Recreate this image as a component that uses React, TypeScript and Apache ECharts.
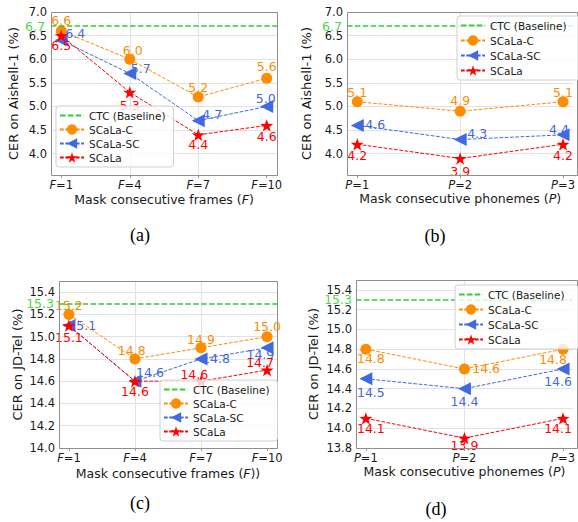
import React, { useEffect, useRef } from 'react';
import * as echarts from 'echarts';

// ---------- data ----------
const seriesNames = ['CTC (Baseline)', 'SCaLa-C', 'SCaLa-SC', 'SCaLa'];

const frameTickLabels = ['F=1', 'F=4', 'F=7', 'F=10'];
const phonemeTickLabels = ['P=1', 'P=2', 'P=3'];

const aishellTickLabels = ['4.0', '4.5', '5.0', '5.5', '6.0', '6.5', '7.0'];
const jdTelTickLabelsC = ['14.0', '14.2', '14.4', '14.6', '14.8', '15.0', '15.2', '15.4'];
const jdTelTickLabelsD = ['13.8', '14.0', '14.2', '14.4', '14.6', '14.8', '15.0', '15.2', '15.4'];

const aishellBaseline = 6.7;
const jdTelBaseline = 15.3;

// (a) Aishell-1, mask consecutive frames
const aishellFramesC = [6.6, 6.0, 5.2, 5.6];
const aishellFramesSC = [6.4, 5.7, 4.7, 5.0];
const aishellFramesS = [6.5, 5.3, 4.4, 4.6];
// (b) Aishell-1, mask consecutive phonemes
const aishellPhonC = [5.1, 4.9, 5.1];
const aishellPhonSC = [4.6, 4.3, 4.4];
const aishellPhonS = [4.2, 3.9, 4.2];
// (c) JD-Tel, mask consecutive frames
const jdFramesC = [15.2, 14.8, 14.9, 15.0];
const jdFramesSC = [15.1, 14.6, 14.8, 14.9];
const jdFramesS = [15.1, 14.6, 14.6, 14.7];
// (d) JD-Tel, mask consecutive phonemes
const jdPhonC = [14.8, 14.6, 14.8];
const jdPhonSC = [14.5, 14.4, 14.6];
const jdPhonS = [14.1, 13.9, 14.1];

// ---------- styles / layout ----------
const FONT = 'DejaVu Sans';
const TEXT = '#1a1a1a';
const GREEN = '#32cd32';
const GREEN_LABEL = '#4fd64f';
const COLORS = ['#ff8c00', '#4169e1', '#ff0000'];
const STAR = 'path://M0,-10 L2.35,-3.24 L9.51,-3.09 L3.8,1.24 L5.88,8.09 L0,4 L-5.88,8.09 L-3.8,1.24 L-9.51,-3.09 L-2.35,-3.24 Z';
const SYMBOLS = [
  { symbol: 'circle', symbolSize: 11, symbolRotate: 0 },
  { symbol: 'triangle', symbolSize: 13, symbolRotate: 90 },
  { symbol: STAR, symbolSize: 13, symbolRotate: 0 },
];

type Panel = {
  grid: { left: number; top: number; width: number; height: number };
  xMin: number; xMax: number; xTicks: string[]; xName: string; xNameGap: number;
  yMin: number; yMax: number; yStep: number; yTicks: string[]; yName: string; yNameGap: number;
  baseline: number; baseDist: number;
  values: number[][];
  offsets: number[][][];
  legend: { left: number; top: number; gap: number; padRight: number };
  caption: string; captionPos: [number, number];
};

const panels: Panel[] = [
  {
    grid: { left: 51, top: 12, width: 226, height: 163 },
    xMin: -0.15, xMax: 3.15, xTicks: frameTickLabels, xName: 'Mask consecutive frames ({i|F})', xNameGap: 18,
    yMin: 3.55, yMax: 7.0, yStep: 0.5, yTicks: aishellTickLabels, yName: 'CER on Aishell-1 (%)', yNameGap: 31,
    baseline: aishellBaseline, baseDist: 6,
    values: [aishellFramesC, aishellFramesSC, aishellFramesS],
    offsets: [
      [[0, -10.5], [3, -9], [0, -10], [0, -11.5]],
      [[14, -7], [11, -4.5], [14, -6], [-1, -7.5]],
      [[0, 9.5], [0, 13], [0, 10], [0, 11]],
    ],
    legend: { left: 56, top: 106, gap: 3, padRight: 8 },
    caption: '(a)', captionPos: [140, 235],
  },
  {
    grid: { left: 347, top: 12, width: 230, height: 163 },
    xMin: -0.1, xMax: 2.1, xTicks: phonemeTickLabels, xName: 'Mask consecutive phonemes ({i|P})', xNameGap: 17,
    yMin: 3.55, yMax: 7.0, yStep: 0.5, yTicks: aishellTickLabels, yName: 'CER on Aishell-1 (%)', yNameGap: 34,
    baseline: aishellBaseline, baseDist: 5,
    values: [aishellPhonC, aishellPhonSC, aishellPhonS],
    offsets: [
      [[0, -9], [0, -10.7], [0, -9]],
      [[18, -1], [17, -6], [-4, -5]],
      [[0, 11.3], [0, 13.3], [0, 11.3]],
    ],
    legend: { left: 457, top: 16, gap: 4, padRight: 14 },
    caption: '(b)', captionPos: [435, 236],
  },
  {
    grid: { left: 59, top: 281, width: 218, height: 167 },
    xMin: -0.15, xMax: 3.15, xTicks: frameTickLabels, xName: 'Mask consecutive frames ({i|F}))', xNameGap: 19,
    yMin: 14.0, yMax: 15.5, yStep: 0.2, yTicks: jdTelTickLabelsC, yName: 'CER on JD-Tel (%)', yNameGap: 35,
    baseline: jdTelBaseline, baseDist: 5,
    values: [jdFramesC, jdFramesSC, jdFramesS],
    offsets: [
      [[0, -8.7], [-3.3, -8.3], [0, -8.7], [0, -10]],
      [[13.3, 0], [15, -8.7], [15, 0], [-6.7, 6.7]],
      [[0, 11.7], [0, 10.7], [-6.7, -7], [-7, -7.7]],
    ],
    legend: { left: 160, top: 380, gap: 3, padRight: 8 },
    caption: '(c)', captionPos: [140, 503],
  },
  {
    grid: { left: 356, top: 280, width: 221, height: 168 },
    xMin: -0.1, xMax: 2.1, xTicks: phonemeTickLabels, xName: 'Mask consecutive phonemes ({i|P})', xNameGap: 17,
    yMin: 13.8, yMax: 15.5, yStep: 0.2, yTicks: jdTelTickLabelsD, yName: 'CER on JD-Tel (%)', yNameGap: 36,
    baseline: jdTelBaseline, baseDist: 4,
    values: [jdPhonC, jdPhonSC, jdPhonS],
    offsets: [
      [[5, 9], [21.7, -0.7], [-10, 10]],
      [[5, 14], [0, 12.7], [-5, 12.7]],
      [[5, 10], [0, 7], [-5, 10]],
    ],
    legend: { left: 455, top: 285, gap: 4, padRight: 14 },
    caption: '(d)', captionPos: [436, 509],
  },
];

const italicize = (s: string) => s.replace(/^([A-Z])/, '{i|$1}');

function buildOption() {
  const grid = panels.map((p) => ({ ...p.grid, show: false }));
  const xAxis = panels.map((p, k) => ({
    type: 'value',
    gridIndex: k,
    min: p.xMin,
    max: p.xMax,
    splitNumber: p.xTicks.length - 1,
    minInterval: 1,
    maxInterval: 1,
    axisLine: { show: false },
    axisTick: { show: true, length: 3, lineStyle: { color: '#999' }, customValues: p.xTicks.map((_, i) => i) },
    axisLabel: {
      margin: 4,
      fontSize: 11.5,
      fontFamily: FONT,
      color: TEXT,
      formatter: (v: number) => {
        const i = Math.round(v);
        if (Math.abs(v - i) > 1e-6 || i < 0 || i >= p.xTicks.length) return '';
        return italicize(p.xTicks[i]);
      },
      rich: { i: { fontStyle: 'italic', fontSize: 11.5, fontFamily: FONT, color: TEXT } },
    },
    splitLine: { show: true, showMinLine: false, showMaxLine: false, lineStyle: { color: '#e2e2e2', width: 1 } },
    name: p.xName,
    nameLocation: 'middle',
    nameGap: p.xNameGap,
    nameTextStyle: {
      fontSize: 12.5, fontFamily: FONT, color: TEXT,
      rich: { i: { fontStyle: 'italic', fontSize: 12.5, fontFamily: FONT, color: TEXT } },
    },
  }));
  const yAxis = panels.map((p, k) => ({
    type: 'value',
    gridIndex: k,
    min: p.yMin,
    max: p.yMax,
    splitNumber: 7,
    minInterval: p.yStep,
    maxInterval: p.yStep,
    axisLine: { show: false },
    axisTick: { show: false },
    axisLabel: {
      margin: 4,
      fontSize: 11.5,
      fontFamily: FONT,
      color: TEXT,
      formatter: (v: number) => p.yTicks.find((t) => Math.abs(parseFloat(t) - v) < 1e-6) ?? '',
    },
    splitLine: { show: true, showMinLine: false, showMaxLine: false, lineStyle: { color: '#e2e2e2', width: 1 } },
    name: p.yName,
    nameLocation: 'middle',
    nameGap: p.yNameGap,
    nameTextStyle: { fontSize: 13, fontFamily: FONT, color: TEXT },
  }));

  const series: any[] = [];
  panels.forEach((p, k) => {
    series.push({
      type: 'line',
      name: seriesNames[0],
      xAxisIndex: k,
      yAxisIndex: k,
      data: [],
      symbol: 'none',
      itemStyle: { color: GREEN, opacity: 0 },
      lineStyle: { color: GREEN, width: 1.6, type: [5.5, 2.4] },
      z: 2,
      markLine: {
        silent: true,
        symbol: 'none',
        lineStyle: { color: GREEN, width: 1.6, type: [5.5, 2.4], opacity: 1 },
        label: {
          show: true,
          position: 'start',
          distance: p.baseDist,
          formatter: p.baseline.toFixed(1),
          color: GREEN_LABEL,
          fontSize: 12.5,
          fontFamily: FONT,
        },
        emphasis: { disabled: true },
        data: [{ yAxis: p.baseline }],
      },
    });
    p.values.forEach((vals, j) => {
      series.push({
        type: 'line',
        name: seriesNames[j + 1],
        xAxisIndex: k,
        yAxisIndex: k,
        ...SYMBOLS[j],
        symbolKeepAspect: true,
        showSymbol: true,
        itemStyle: { color: COLORS[j], opacity: 1 },
        lineStyle: { color: COLORS[j], width: 1, type: [3.7, 1.6] },
        z: 3 + j,
        emphasis: { disabled: true },
        label: {
          show: true,
          position: 'inside',
          align: 'center',
          verticalAlign: 'middle',
          color: COLORS[j],
          fontSize: 12.5,
          fontFamily: FONT,
          formatter: (prm: any) => Number(prm.value[1]).toFixed(1),
        },
        data: vals.map((v, i) => ({ value: [i, v], label: { offset: p.offsets[j][i] } })),
      });
    });
  });

  const legend = panels.map((p) => ({
    data: [
      { name: seriesNames[0], itemStyle: { opacity: 0 } },
      seriesNames[1],
      seriesNames[2],
      seriesNames[3],
    ],
    orient: 'vertical',
    left: p.legend.left,
    top: p.legend.top,
    itemWidth: 24,
    itemHeight: 13,
    itemGap: p.legend.gap,
    padding: [4, p.legend.padRight, 4, 3],
    backgroundColor: 'rgba(255,255,255,0.8)',
    borderColor: '#d0d0d0',
    borderWidth: 1,
    borderRadius: 3,
    selectedMode: false,
    z: 10,
    textStyle: { fontSize: 10.5, fontFamily: FONT, color: TEXT },
  }));

  const graphic: any[] = [];
  panels.forEach((p) => {
    graphic.push({
      type: 'rect',
      silent: true,
      z: 8,
      shape: { x: p.grid.left + 0.5, y: p.grid.top + 0.5, width: p.grid.width, height: p.grid.height },
      style: { fill: 'none', stroke: '#8f8f8f', lineWidth: 1 },
    });
    graphic.push({
      type: 'text',
      silent: true,
      x: p.captionPos[0],
      y: p.captionPos[1],
      style: {
        text: p.caption,
        fontSize: 18,
        fontFamily: 'Liberation Serif',
        fill: '#000',
        align: 'center',
        verticalAlign: 'middle',
      },
    });
  });

  return {
    animation: false,
    backgroundColor: '#fff',
    grid,
    xAxis,
    yAxis,
    legend,
    series,
    graphic,
  };
}

export default function App() {
  const ref = useRef<HTMLDivElement>(null);
  useEffect(() => {
    if (!ref.current) return;
    const chart = echarts.init(ref.current, undefined, { renderer: 'svg' });
    chart.setOption(buildOption() as any);
    return () => chart.dispose();
  }, []);
  return (
    <div
      ref={ref}
      style={{ position: 'fixed', left: 0, top: 0, width: 578, height: 522, background: '#fff' }}
    />
  );
}
